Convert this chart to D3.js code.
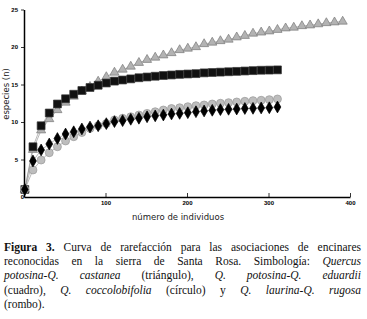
<!DOCTYPE html>
<html>
<head>
<meta charset="utf-8">
<script src="https://cdn.jsdelivr.net/npm/d3@7"></script>
<style>
  body { margin: 0; background: #fff; width: 367px; height: 319px; overflow: hidden; position: relative; }
  svg { position: absolute; left: 0; top: 0; }
  .axis path, .axis line { stroke: #000; }
  .axis text { font-family: Arial, "Liberation Sans", sans-serif; font-size: 6px; font-weight: bold; fill: #000; }
  .axis-label { font-family: "DejaVu Sans", Arial, sans-serif; font-size: 8.5px; fill: #222; }
  #caption { position: absolute; left: 4px; top: 240px; width: 357px; font-family: "Liberation Serif", serif; font-size: 11.5px; line-height: 14.2px; color: #111; }
  #caption div { text-align: justify; text-align-last: justify; white-space: nowrap; }
  #caption div.last { text-align-last: left; }
</style>
</head>
<body>
<svg id="chart" width="367" height="232"></svg>
<div id="caption"></div>
<script>
var margin = {left: 24, right: 17, top: 9.5, bottom: 35}
var width = 367, height = 232

// number of individuals sampled (every 10)
const xTriangle = d3.range(1, 392, 10)
const xOther = d3.range(1, 312, 10)

// Q. potosina - Q. castanea (triangle)
const triangulo = [1, 6.3, 8.9, 10.4, 11.6, 12.6, 13.4, 14.1, 14.7, 15.4,
    16.0, 16.6, 17.0, 17.4, 17.9, 18.3, 18.6, 18.9, 19.2, 19.6,
    19.8, 20.0, 20.4, 20.6, 20.8, 21.0, 21.3, 21.5, 21.8, 21.95,
    22.1, 22.3, 22.5, 22.6, 22.8, 22.9, 23.05, 23.2, 23.3, 23.4]
// Q. potosina - Q. eduardii (square)
const cuadro = [1, 6.7, 9.5, 11.2, 12.4, 13.1, 13.7, 14.2, 14.6, 14.9,
    15.2, 15.45, 15.6, 15.75, 15.9, 16.0, 16.1, 16.2, 16.27, 16.35,
    16.4, 16.45, 16.55, 16.6, 16.65, 16.7, 16.75, 16.8, 16.85, 16.9,
    16.92, 16.95]
// Q. coccolobifolia (circle)
const circulo = [1, 3.6, 4.93, 5.9, 6.7, 7.47, 8.04, 8.6, 9.15, 9.5,
    9.8, 10.27, 10.5, 10.7, 10.93, 11.15, 11.37, 11.6, 11.8, 11.9,
    12.04, 12.18, 12.27, 12.4, 12.5, 12.58, 12.67, 12.76, 12.85, 12.9,
    12.98, 13.07]
// Q. laurina - Q. rugosa (diamond)
const rombo = [1, 4.8, 6.27, 7.07, 7.8, 8.4, 8.7, 9.07, 9.33, 9.5,
    9.78, 10.05, 10.18, 10.36, 10.5, 10.7, 10.82, 10.93, 11.07, 11.15,
    11.24, 11.37, 11.47, 11.56, 11.65, 11.69, 11.73, 11.8, 11.82, 11.87,
    11.9, 12.0]

const xTicks = [0, 100, 200, 300, 400]
const yTicks = [5, 10, 15, 20, 25]

var series = [
    {name: "triangulo", xs: xTriangle, ys: triangulo, shape: d3.symbolTriangle, size: 36, fill: "#b3b3b3", stroke: "#7a7a7a"},
    {name: "cuadro", xs: xOther, ys: cuadro, shape: d3.symbolSquare, size: 62, fill: "#111", stroke: "#333"},
    {name: "circulo", xs: xOther, ys: circulo, shape: d3.symbolCircle, size: 50, fill: "#bdbdbd", stroke: "#9a9a9a"},
    {name: "rombo", xs: xOther, ys: rombo, shape: d3.symbolDiamond, size: 40, fill: "#000", stroke: "#000"}
]

var svg = d3.select("#chart")

var xScale = d3.scaleLinear().domain([0, 400]).range([margin.left, width - margin.right])
var yScale = d3.scaleLinear().domain([0, 25]).range([height - margin.bottom, margin.top])

// x axis, ticks pointing up
var gx = svg.append("g")
    .attr("class", "axis")
    .attr("transform", "translate(0," + (height - margin.bottom) + ")")
    .call(d3.axisBottom(xScale).tickValues(xTicks).tickSize(-4).tickPadding(4).tickSizeOuter(0))
gx.select(".domain").attr("stroke-width", 1.5)
gx.selectAll(".tick line").attr("stroke-width", 0.8)
gx.selectAll(".tick text").filter(d => d === 0).attr("dx", -2).attr("dy", "-0.3em")

// y axis
var gy = svg.append("g")
    .attr("class", "axis")
    .attr("transform", "translate(" + margin.left + ",0)")
    .call(d3.axisLeft(yScale).tickValues(yTicks).tickSize(3).tickPadding(3).tickSizeOuter(0))
gy.select(".domain").attr("stroke-width", 1.5)
gy.selectAll(".tick line").attr("stroke-width", 0.8)

svg.append("text")
    .attr("class", "axis-label")
    .attr("transform", "translate(9," + 94 + ")rotate(-90)")
    .style("text-anchor", "middle")
    .text("especies (n)")

svg.append("text")
    .attr("class", "axis-label")
    .attr("transform", "translate(178,220)")
    .style("text-anchor", "middle")
    .text("número de individuos")

var line = d3.line().x(d => xScale(d[0])).y(d => yScale(d[1]))

series.forEach(function(s) {
    var pts = s.xs.map((x, i) => [x, s.ys[i]])
    svg.append("path")
        .datum(pts)
        .attr("d", line)
        .attr("fill", "none")
        .attr("stroke", "#8a8a8a")
        .attr("stroke-width", 0.6)
})

series.forEach(function(s) {
    var pts = s.xs.map((x, i) => [x, s.ys[i]])
    svg.append("g").selectAll("path")
        .data(pts)
        .enter()
        .append("path")
            .attr("transform", d => "translate(" + xScale(d[0]) + "," + yScale(d[1]) + ")")
            .attr("d", d3.symbol().type(s.shape).size(s.size))
            .attr("fill", s.fill)
            .attr("stroke", s.stroke)
            .attr("stroke-width", 0.7)
})

// caption
var captionLines = [
    "<b>Figura 3.</b> Curva de rarefacción para las asociaciones de encinares",
    "reconocidas en la sierra de Santa Rosa. Simbología: <i>Quercus</i>",
    "<i>potosina-Q. castanea</i> (triángulo), <i>Q. potosina-Q. eduardii</i>",
    "(cuadro), <i>Q. coccolobifolia</i> (círculo) y <i>Q. laurina-Q. rugosa</i>",
    "(rombo)."
]
d3.select("#caption").selectAll("div")
    .data(captionLines)
    .enter()
    .append("div")
        .attr("class", (d, i) => i === captionLines.length - 1 ? "last" : null)
        .html(d => d)
</script>
</body>
</html>
